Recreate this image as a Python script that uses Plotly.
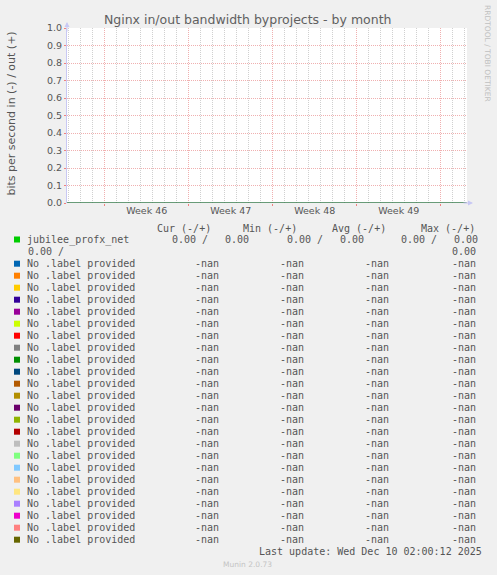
import pandas as pd
import plotly.graph_objects as go

# ---- data ----
x_range = ["2025-11-06 20:30", "2025-12-10 04:30"]
week_starts = ["2025-11-10", "2025-11-17", "2025-11-24", "2025-12-01", "2025-12-08"]
week_labels = ["Week 46", "Week 47", "Week 48", "Week 49"]
y_ticks = [0.0, 0.1, 0.2, 0.3, 0.4, 0.5, 0.6, 0.7, 0.8, 0.9, 1.0]

# jubilee_profx_net was 0 over the whole month
jubilee_time = ["2025-11-06 20:30", "2025-12-10 02:00"]
jubilee_vals = [0.0, 0.0]

series_names = ["jubilee_profx_net"] + ["No .label provided"] * 24
series_colors = ["#00CC00", "#0066B3", "#FF8000", "#FFCC00", "#330099", "#990099",
                 "#CCFF00", "#FF0000", "#808080", "#008F00", "#00487D", "#B35A00",
                 "#B38F00", "#6B006B", "#8FB300", "#B30000", "#BEBEBE", "#80FF80",
                 "#80C9FF", "#FFC080", "#FFE680", "#AA80FF", "#EE00CC", "#FF8080",
                 "#666600"]
col_headers = ["Cur (-/+)", "Min (-/+)", "Avg (-/+)", "Max (-/+)"]
jubilee_stats = [(0.00, 0.00), (0.00, 0.00), (0.00, 0.00), (0.00, 0.00)]
other_stats = ["-nan", "-nan", "-nan", "-nan"]
last_update = "Last update: Wed Dec 10 02:00:12 2025"

W, H = 497, 575
L, R, T, B = 67, 467, 28, 203
TXT = "#555555"
MONO = "DejaVu Sans Mono"
RED_GRID = "#f0b0b0"
GRAY_GRID = "#d0d0d0"


def px(x):
    return (x - L) / (R - L)


def py(y):
    return (B - y) / (B - T)


week_mid = [d + pd.Timedelta(hours=84) for d in pd.to_datetime(week_starts[:-1])]

fig = go.Figure()
fig.add_trace(go.Scatter(x=jubilee_time, y=jubilee_vals, mode="lines",
                         line=dict(color=series_colors[0], width=1),
                         showlegend=False, hoverinfo="skip"))
# invisible trace so the label axis gets drawn
fig.add_trace(go.Scatter(x=week_mid, y=[None] * len(week_mid), xaxis="x2",
                         showlegend=False, hoverinfo="skip"))

fig.update_layout(
    width=W, height=H, autosize=False,
    margin=dict(l=L, r=W - R, t=T, b=H - B, pad=0),
    paper_bgcolor="#F0F0F0", plot_bgcolor="white",
    font=dict(family="DejaVu Sans", color=TXT),
    title=dict(text="Nginx in/out bandwidth byprojects - by month",
               x=247.7 / W, xanchor="center", y=1 - 19.3 / H,
               yanchor="middle", font=dict(size=12.5, color="#606060")),
    xaxis=dict(type="date", range=x_range, tickmode="array", tickvals=week_starts,
               showticklabels=False, ticks="outside", ticklen=2, tickcolor="#f08080",
               showgrid=True, gridcolor=RED_GRID, griddash="1px,1px", gridwidth=1,
               minor=dict(dtick=86400000, tick0="2025-11-10", showgrid=True,
                          gridcolor=GRAY_GRID, griddash="1px,1px", ticks=""),
               showline=False, zeroline=False),
    xaxis2=dict(type="date", range=x_range, overlaying="x", anchor="y", side="bottom",
                tickmode="array", tickvals=week_mid, ticktext=week_labels,
                showgrid=False, ticks="", tickfont=dict(size=9.5, color=TXT),
                showline=False, zeroline=False),
    yaxis=dict(range=[0, 1], tickmode="array", tickvals=y_ticks, tickformat=".1f",
               tickfont=dict(size=9.5, color=TXT), ticks="outside", ticklen=2,
               tickcolor="#f08080", showgrid=True, gridcolor=RED_GRID,
               griddash="1px,1px", gridwidth=1, showline=True, linecolor="#c8c8f4",
               zeroline=False),
)

ann = []
# y axis label
ann.append(dict(text="bits per second in (-) / out (+)", x=px(11), y=py(113.5),
                textangle=-90, xanchor="center", font=dict(size=11, color=TXT)))
# axis arrows
ann.append(dict(text="", x=px(67), y=py(22), ax=0, ay=10, showarrow=True,
                arrowhead=2, arrowsize=1, arrowwidth=1, arrowcolor="#c8c8f4"))
ann.append(dict(text="", x=px(473), y=py(203), ax=-10, ay=0, showarrow=True,
                arrowhead=2, arrowsize=1, arrowwidth=1, arrowcolor="#c8c8f4"))
# watermark
ann.append(dict(text="RRDTOOL / TOBI OETIKER", x=px(487.3), y=py(53.3), textangle=90,
                xanchor="center", font=dict(size=7.5, color="#c0c0c0")))
ann.append(dict(text="Munin 2.0.73", x=px(247.7), y=py(564), xanchor="center",
                font=dict(size=7.5, color="#c4c4c4")))

# legend header
for h, xr in zip(col_headers, [212.3, 297.7, 386.7, 475.7]):
    ann.append(dict(text=h, x=px(xr), y=py(228), xanchor="right",
                    font=dict(family=MONO, size=10, color=TXT)))

# dark axis line at zero drawn over the data, like rrdtool does
shapes = [dict(type="line", xref="paper", yref="y", x0=0, x1=1, y0=0, y1=0,
               line=dict(color="#505070", width=1), layer="above")]
row_y = [239.5] + [263.7 + 12 * i for i in range(len(series_names) - 1)]
for name, color, yy in zip(series_names, series_colors, row_y):
    shapes.append(dict(type="rect", xref="paper", yref="paper",
                       x0=px(14), x1=px(20), y0=py(yy + 3), y1=py(yy - 3),
                       fillcolor=color, line=dict(width=0)))
    ann.append(dict(text=name, x=px(26.3), y=py(yy), xanchor="left",
                    font=dict(family=MONO, size=10, color=TXT)))

# jubilee row wraps onto a second line
jub_pos = [(171, 224), (285.7, 339), (399.7, 453.3)]
for (a, b), (vin, vout) in zip(jub_pos, jubilee_stats[:3]):
    ann.append(dict(text="%.2f /" % vin, x=px(a), y=py(239.5), xanchor="left",
                    font=dict(family=MONO, size=10, color=TXT)))
    ann.append(dict(text="%.2f" % vout, x=px(b), y=py(239.5), xanchor="left",
                    font=dict(family=MONO, size=10, color=TXT)))
ann.append(dict(text="%.2f /" % jubilee_stats[3][0], x=px(26.7), y=py(251.5),
                xanchor="left", font=dict(family=MONO, size=10, color=TXT)))
ann.append(dict(text="%.2f" % jubilee_stats[3][1], x=px(476.7), y=py(251.5),
                xanchor="right", font=dict(family=MONO, size=10, color=TXT)))

for yy in row_y[1:]:
    for v, xr in zip(other_stats, [219.7, 305.3, 390.3, 476.7]):
        ann.append(dict(text=v, x=px(xr), y=py(yy), xanchor="right",
                        font=dict(family=MONO, size=10, color=TXT)))

ann.append(dict(text=last_update, x=px(482.7), y=py(551.3), xanchor="right",
                font=dict(family=MONO, size=10, color=TXT)))

for a in ann:
    a.setdefault("xref", "paper")
    a.setdefault("yref", "paper")
    a.setdefault("showarrow", False)
    a.setdefault("yanchor", "middle")
    a["borderpad"] = 0

fig.update_layout(annotations=ann, shapes=shapes)
# drop the browser's default 8px body margin so the figure fills the window
fig.write_html("out.html", config={"displayModeBar": False},
               post_script="document.body.style.margin = '0';")
